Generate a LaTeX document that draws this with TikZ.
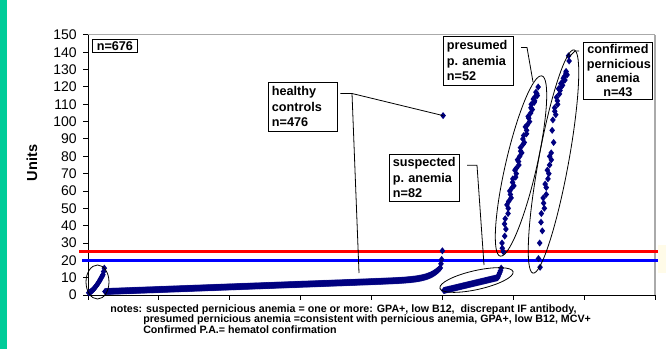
\documentclass[tikz,border=0pt]{standalone}
\usepackage{fontspec}
\setmainfont{Liberation Sans}

\definecolor{navy}{RGB}{0,0,128}
\definecolor{sidegreen}{RGB}{0,204,153}
\definecolor{framegray}{RGB}{170,170,170}
\definecolor{paleyellow}{RGB}{255,251,232}

% small filled diamond for the data points
\pgfdeclareplotmark{dmd}{%
  \pgfpathmoveto{\pgfqpoint{0pt}{2.65pt}}%
  \pgfpathlineto{\pgfqpoint{2.1pt}{0pt}}%
  \pgfpathlineto{\pgfqpoint{0pt}{-2.65pt}}%
  \pgfpathlineto{\pgfqpoint{-2.1pt}{0pt}}%
  \pgfpathclose
  \pgfusepathqfill}

\tikzset{
    datapt/.style={navy, only marks, mark=dmd},
    callout/.style={draw, line width=0.6pt, anchor=north west, align=left,
        inner xsep=2.6pt, inner ysep=0pt,
        font=\fontsize{9.5}{11.6}\selectfont\bfseries},
    leader/.style={line width=0.6pt},
    grouping/.style={line width=0.6pt},
    ticklab/.style={anchor=east, inner sep=0pt, font=\fontsize{10.5}{12}\selectfont},
    notes/.style={anchor=base west, inner sep=0pt, font=\fontsize{8}{8}\selectfont\bfseries}
}

\begin{document}
\begin{tikzpicture}[x=0.75pt,y=-0.75pt]
                \useasboundingbox (0,0) rectangle (666,349);
                \fill[sidegreen] (0,0) rectangle (7.3,349);
                \fill[paleyellow] (658,245) rectangle (666,273);

                % frame and axes
                \draw[framegray, line width=0.75pt] (88,35) -- (655,35);
                \draw[framegray, line width=1.5pt] (655,35) -- (655,295);
                \draw[line width=0.75pt] (88,35) -- (88,295) -- (655,295);
                \foreach \k in {0,...,8}
                    \draw[line width=0.75pt] (88+70.875*\k,295) -- ++(0,5);
                \foreach \v in {0,10,...,150} {
                    \draw[line width=0.75pt] (83,{295-1.73333*\v}) -- (88,{295-1.73333*\v});
                    \node[ticklab] (yl\v) at (77,{295-1.73333*\v}) {\v};
                }
                \node[rotate=90, font=\fontsize{10.9}{13}\selectfont\bfseries] (ytitle) at (32,163) {Units};

                % cut-off lines
                \draw[red, line width=1.9pt] (79,251.7) -- (658,251.7);
                \draw[blue, line width=1.9pt] (82,260.3) -- (658,260.3);

                % data, one step per sample, 10 units per tick
                \begin{scope}[shift={(88,295)}, x=0.53156pt, y=1.3pt]
                    \draw[datapt] plot[domain=1:21, samples=21] (\x,{1.2+10.5*(\x/21)^1.6});
                    \draw[datapt] plot coordinates {(22,13.5) (23,15.5)};
                    \draw[datapt] plot[domain=24:497, samples=474] (\x,{2+0.0151*(\x-24)+6.5*exp((\x-497)/15)});
                    \draw[datapt] plot coordinates {(498,18) (499,20.5) (500,25.5) (501,103.5)};
                    \draw[datapt] plot[domain=502:578, samples=77] (\x,{2.6+7.4*(\x-502)/76});
                    \draw[datapt] plot coordinates {(579,11) (580,12) (581,13) (582,14) (583,15.5)};
                    \foreach \v [count=\k] in {25,27,30,34,38,41,44,47,50,52,54,56,58,60,62,63,65,67,68,70,
                        72,73,75,77,78,80,82,83,85,87,88,90,92,93,95,97,98,100,102,103,105,107,108,110,111,
                        112,113,114,115,116,117,120}
                        \draw[datapt] plot coordinates {({583+\k+2*sin(\k*97)},\v)};
                    \foreach \v [count=\k] in {16,21,30,37,42,47,50,53,56,58,62,64,67,70,72,75,78,80,82,88,
                        95,101,104,106,108,110,112,114,116,118,119,120,121,122,123,124,125,126,127,128,129,135,138}
                        \draw[datapt] plot coordinates {({635+\k+2*sin(\k*113)},\v)};
                    \coordinate (hco) at (501,103.5);
                \end{scope}

                % groups
                \draw[grouping] (97.5,282) ellipse [x radius=11.5, y radius=17];
                \draw[grouping, rotate around={12.6:(476.5,280)}] (476.5,280) ellipse [x radius=37.5, y radius=9.5];
                \draw[grouping, rotate around={77:(521,166)}] (521,166) ellipse [x radius=92.5, y radius=15.5];
                \draw[grouping, rotate around={79.6:(553.5,161.5)}] (553.5,161.5) ellipse [x radius=113.5, y radius=15];

                % callouts
                \node[draw, line width=0.6pt, inner sep=0pt, minimum width=33.75pt, minimum height=9.75pt,
                    anchor=north west, font=\fontsize{9.5}{11.6}\selectfont\bfseries] (ntot) at (92,39) {n=676};
                \node[callout, text width=46.5pt, minimum height=36.75pt] (hc) at (268,82) {healthy\\controls\\n=476};
                \node[callout, text width=47.25pt, minimum height=35pt] (sp) at (389,154) {suspected\\p.\ anemia\\n=82};
                \node[callout, text width=47.25pt, minimum height=36.75pt] (pr) at (443,36) {presumed\\p.\ anemia\\n=52};
                \node[callout, text width=46.5pt, minimum height=42.4pt, align=center,
                    font=\fontsize{9.5}{10.7}\selectfont\bfseries] (cf) at (583,42) {confirmed\\pernicious\\anemia\\n=43};

                % leaders
                \coordinate (hcb) at (352,93.5);
                \coordinate (hcl) at (359,273);
                \coordinate (spb) at (477,165.3);
                \coordinate (spl) at (484,265);
                \coordinate (prb) at (527,47.5);
                \coordinate (prl) at (533,82);
                \coordinate (cfb) at (575,51);
                \coordinate (cfl) at (569,57);
                \draw[leader, shorten <=2pt] (hc.east |- hcb) -- (hcb) -- (hco);
                \draw[leader] (hcb) -- (hcl);
                \draw[leader, shorten <=5.5pt] (sp.east |- spb) -- (spb) -- (spl);
                \draw[leader, shorten <=5.5pt] (pr.east |- prb) -- (prb) -- (prl);
                \draw[leader, shorten <=3pt] (cf.west |- cfb) -- (cfb) -- (cfl);

                % notes
                \node[notes] (nta) at (110,312) {notes: suspected pernicious anemia = one or more: GPA+, low B12, \ discrepant IF antibody,};
                \node[notes] (ntb) at (143,322.7) {presumed pernicious anemia =consistent with pernicious anemia, GPA+, low B12, MCV+};
                \node[notes] (ntc) at (143,333.4) {Confirmed P.A.= hematol confirmation};
            \end{tikzpicture}
\end{document}
